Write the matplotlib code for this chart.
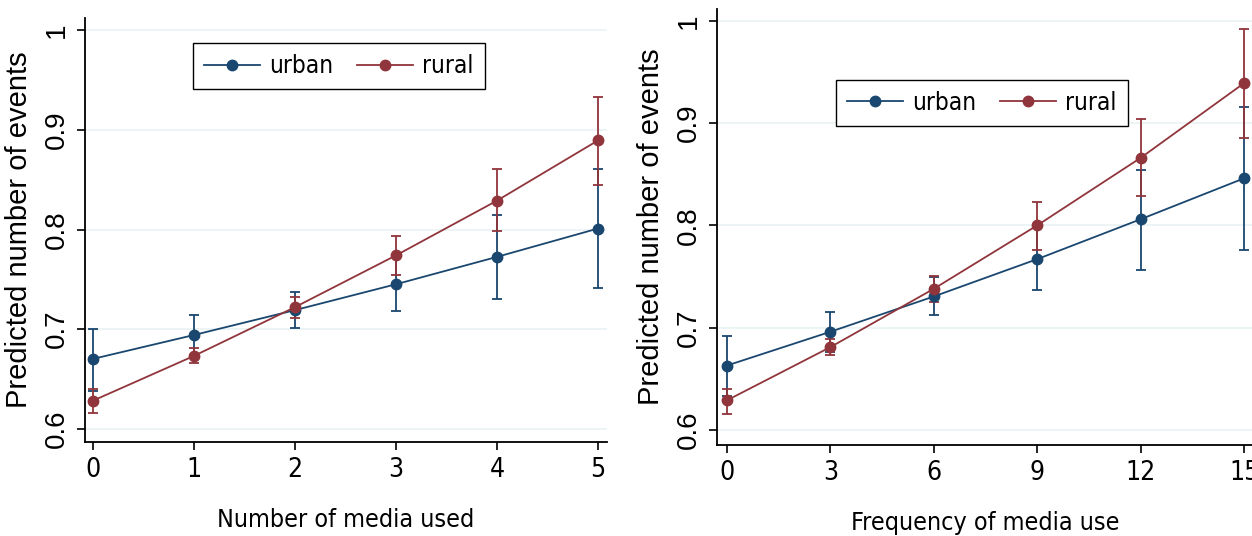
import os
import matplotlib
matplotlib.use("Agg")
import matplotlib.pyplot as plt
from matplotlib import font_manager
from matplotlib.font_manager import FontProperties

# predicted number of events, by number of media used
media_n = [0, 1, 2, 3, 4, 5]
urban_n = [0.670, 0.694, 0.719, 0.745, 0.7725, 0.801]
urban_n_lo = [0.638, 0.674, 0.701, 0.718, 0.730, 0.741]
urban_n_hi = [0.700, 0.714, 0.737, 0.772, 0.815, 0.861]
rural_n = [0.628, 0.673, 0.722, 0.774, 0.829, 0.8895]
rural_n_lo = [0.6155, 0.6655, 0.711, 0.754, 0.7985, 0.845]
rural_n_hi = [0.640, 0.681, 0.732, 0.7935, 0.8605, 0.9335]

# predicted number of events, by frequency of media use
freq = [0, 3, 6, 9, 12, 15]
urban_f = [0.663, 0.696, 0.7305, 0.767, 0.806, 0.846]
urban_f_lo = [0.633, 0.676, 0.712, 0.7365, 0.7565, 0.776]
urban_f_hi = [0.692, 0.7155, 0.750, 0.798, 0.8545, 0.9155]
rural_f = [0.629, 0.681, 0.738, 0.800, 0.866, 0.939]
rural_f_lo = [0.616, 0.673, 0.7255, 0.776, 0.829, 0.8855]
rural_f_hi = [0.6405, 0.6885, 0.751, 0.823, 0.904, 0.992]

y_ticks = [0.6, 0.7, 0.8, 0.9, 1.0]
y_tick_labels = ["0.6", "0.7", "0.8", "0.9", "1"]

navy = "#1a476f"
maroon = "#90353b"
grid_col = "#eaf2f3"

plt.rcParams["font.family"] = ["Liberation Sans", "DejaVu Sans"]

# look for a narrow / condensed sans face for the x axis texts (stata look)
narrow_file = None
prefs = ["LiberationSansNarrow-Regular", "DejaVuSansCondensed.", "NotoSans-Condensed.",
         "Roboto_Condensed-Regular", "RobotoCondensed-Regular", "OpenSans-CondensedRegular",
         "OpenSans_Condensed-Regular", "Inter-Condensed"]
files = [f.fname for f in font_manager.fontManager.ttflist]
for p in prefs:
    hits = [f for f in files if p in os.path.basename(f)]
    if hits:
        narrow_file = hits[0]
        break
if narrow_file is None:
    bad = ["Bold", "Italic", "Oblique", "Light", "Semi", "Extra", "Black", "Medium", "Thin", "Mono", "Serif"]
    for f in files:
        b = os.path.basename(f)
        if ("Narrow" in b or "Condensed" in b) and not any(w in b for w in bad):
            narrow_file = f
            break


def narrow_font(size):
    if narrow_file:
        return FontProperties(fname=narrow_file, size=size)
    return FontProperties(family="Liberation Sans", size=size * 0.85)


fig = plt.figure(figsize=(12.52, 5.36), dpi=100)
ax1 = fig.add_axes([85 / 1252, 94 / 536, 522 / 1252, 424 / 536])
ax2 = fig.add_axes([717 / 1252, 91.5 / 536, 536 / 1252, 436 / 536])


def draw_panel(ax, x, u, u_lo, u_hi, r, r_lo, r_hi, xlim, ylim, xlabel, legend_xy):
    for y, lo, hi, col in [(u, u_lo, u_hi, navy), (r, r_lo, r_hi, maroon)]:
        err = [[v - l for v, l in zip(y, lo)], [h - v for v, h in zip(y, hi)]]
        ax.errorbar(x, y, yerr=err, fmt="none", ecolor=col, elinewidth=1.3,
                    capsize=3.5, capthick=1.3, zorder=2)
    ax.plot(x, u, "-o", color=navy, lw=1.3, ms=7.5, label="urban", zorder=3)
    ax.plot(x, r, "-o", color=maroon, lw=1.3, ms=7.5, label="rural", zorder=3)

    ax.set_xlim(*xlim)
    ax.set_ylim(*ylim)
    ax.set_xticks(x)
    ax.set_xticklabels([str(v) for v in x], fontproperties=narrow_font(19))
    ax.set_yticks(y_ticks)
    ax.set_yticklabels(y_tick_labels, rotation=90, va="center", fontsize=20)
    ax.grid(axis="y", color=grid_col, lw=1.2)
    ax.set_axisbelow(True)
    for s in ["top", "right"]:
        ax.spines[s].set_visible(False)
    for s in ["left", "bottom"]:
        ax.spines[s].set_linewidth(1.3)
    ax.tick_params(length=6, width=1.2, pad=5)
    ax.set_ylabel("Predicted number of events", fontsize=21, labelpad=8)
    ax.set_xlabel(xlabel, fontproperties=narrow_font(18), labelpad=18)

    leg = ax.legend(loc="upper left", bbox_to_anchor=legend_xy, ncol=2,
                    prop=narrow_font(17.5), handlelength=2.3,
                    columnspacing=0.95, handletextpad=0.4, borderaxespad=0,
                    fancybox=False, framealpha=1, borderpad=0.45)
    leg.get_frame().set_edgecolor("black")
    leg.get_frame().set_linewidth(1.0)


draw_panel(ax1, media_n, urban_n, urban_n_lo, urban_n_hi, rural_n, rural_n_lo, rural_n_hi,
           (-0.079, 5.089), (0.5865, 1.0125), "Number of media used", (0.207, 0.94))
draw_panel(ax2, freq, urban_f, urban_f_lo, urban_f_hi, rural_f, rural_f_lo, rural_f_hi,
           (-0.29, 15.26), (0.5858, 1.012), "Frequency of media use", (0.222, 0.836))

plt.savefig("out.png", dpi=100)
